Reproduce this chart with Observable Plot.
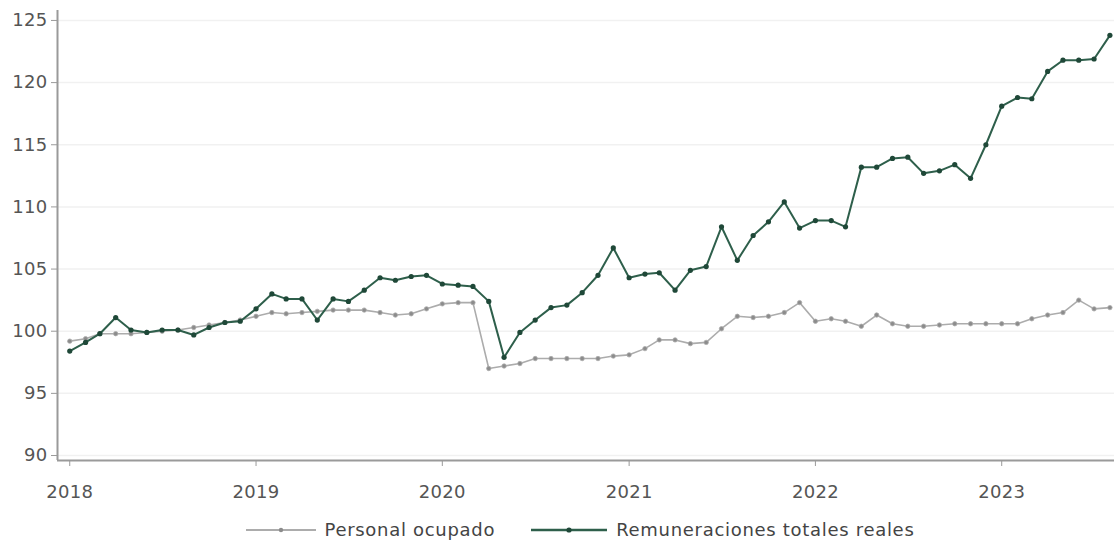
<!DOCTYPE html>
<html>
<head>
<meta charset="utf-8">
<script src="https://cdn.jsdelivr.net/npm/d3@7"></script>
<script src="https://cdn.jsdelivr.net/npm/@observablehq/plot@0.6"></script>
<style>
  html, body { margin: 0; padding: 0; background: #fff; }
  body { width: 1114px; height: 544px; overflow: hidden; font-family: "DejaVu Sans", sans-serif; }
  #legend { display: flex; justify-content: center; align-items: center; gap: 36px; font-size: 18px; letter-spacing: 0.7px; color: #444; margin-top: 11px; padding-left: 46px; }
  #legend .item { display: flex; align-items: center; gap: 9px; }
</style>
</head>
<body>
<div id="chart"></div>
<div id="legend"></div>
<script>
const startYear = 2018;
const startMonth = 0;
const seriesNames = ["Personal ocupado", "Remuneraciones totales reales"];
const seriesColors = ["#acacac", "#2e5f4b"];
const dotColors = ["#8c8c8c", "#1f4838"];

const personalOcupado = [
  99.2, 99.4, 99.8, 99.8, 99.8, 99.9, 100.0, 100.1, 100.3, 100.5, 100.7, 100.9,
  101.2, 101.5, 101.4, 101.5, 101.6, 101.7, 101.7, 101.7, 101.5, 101.3, 101.4, 101.8,
  102.2, 102.3, 102.3, 97.0, 97.2, 97.4, 97.8, 97.8, 97.8, 97.8, 97.8, 98.0,
  98.1, 98.6, 99.3, 99.3, 99.0, 99.1, 100.2, 101.2, 101.1, 101.2, 101.5, 102.3,
  100.8, 101.0, 100.8, 100.4, 101.3, 100.6, 100.4, 100.4, 100.5, 100.6, 100.6, 100.6,
  100.6, 100.6, 101.0, 101.3, 101.5, 102.5, 101.8, 101.9
];
const remuneraciones = [
  98.4, 99.1, 99.8, 101.1, 100.1, 99.9, 100.1, 100.1, 99.7, 100.3, 100.7, 100.8,
  101.8, 103.0, 102.6, 102.6, 100.9, 102.6, 102.4, 103.3, 104.3, 104.1, 104.4, 104.5,
  103.8, 103.7, 103.6, 102.4, 97.9, 99.9, 100.9, 101.9, 102.1, 103.1, 104.5, 106.7,
  104.3, 104.6, 104.7, 103.3, 104.9, 105.2, 108.4, 105.7, 107.7, 108.8, 110.4, 108.3,
  108.9, 108.9, 108.4, 113.2, 113.2, 113.9, 114.0, 112.7, 112.9, 113.4, 112.3, 115.0,
  118.1, 118.8, 118.7, 120.9, 121.8, 121.8, 121.9, 123.8
];
const yTicks = [90, 95, 100, 105, 110, 115, 120, 125];
const xTickYears = [2018, 2019, 2020, 2021, 2022, 2023];

const xDomain = [new Date(2017, 11, 8), new Date(2023, 7, 10)];
const yDomain = [89.6, 125.8];

function toRows(values, name) {
  return values.map((v, i) => ({ date: new Date(startYear, startMonth + i, 1), value: v, series: name }));
}
const rowsP = toRows(personalOcupado, seriesNames[0]);
const rowsR = toRows(remuneraciones, seriesNames[1]);

const chart = Plot.plot({
  width: 1114,
  height: 508,
  marginLeft: 57,
  marginRight: 0,
  marginTop: 10,
  marginBottom: 48,
  style: { fontFamily: "DejaVu Sans, sans-serif", fontSize: "18px", color: "#444", background: "#fff", letterSpacing: "0.3px" },
  x: { type: "time", domain: xDomain },
  y: { domain: yDomain },
  marks: [
    Plot.ruleY(yTicks, { stroke: "#f1f1f1", strokeWidth: 1.5 }),
    Plot.ruleX([xDomain[0]], { stroke: "#9a9a9a", strokeWidth: 2 }),
    Plot.ruleY([yDomain[0]], { stroke: "#9a9a9a", strokeWidth: 2 }),
    Plot.axisY({ ticks: yTicks, tickSize: 6, tickPadding: 4, stroke: "#9a9a9a", fill: "#555", label: null, fontSize: 18 }),
    Plot.axisX({ ticks: xTickYears.map(y => new Date(y, 0, 1)), tickFormat: d3.timeFormat("%Y"), tickSize: 6, tickPadding: 19, stroke: "#9a9a9a", fill: "#555", label: null, fontSize: 18 }),
    Plot.line(rowsP, { x: "date", y: "value", stroke: seriesColors[0], strokeWidth: 1.6 }),
    Plot.dot(rowsP, { x: "date", y: "value", r: 2.2, fill: dotColors[0], stroke: seriesColors[0], strokeWidth: 0.8 }),
    Plot.line(rowsR, { x: "date", y: "value", stroke: seriesColors[1], strokeWidth: 2 }),
    Plot.dot(rowsR, { x: "date", y: "value", r: 2.6, fill: dotColors[1] })
  ]
});
document.getElementById("chart").appendChild(chart);

const legend = document.getElementById("legend");
seriesNames.forEach((name, i) => {
  const item = document.createElement("div");
  item.className = "item";
  const w = i === 0 ? 70 : 76;
  item.innerHTML = `<svg width="${w}" height="12"><line x1="0" y1="6" x2="${w}" y2="6" stroke="${seriesColors[i]}" stroke-width="${i === 0 ? 2 : 2.5}"/><circle cx="${w/2}" cy="6" r="${i === 0 ? 2.2 : 2.6}" fill="${dotColors[i]}"/></svg><span>${name}</span>`;
  legend.appendChild(item);
});
</script>
</body>
</html>
